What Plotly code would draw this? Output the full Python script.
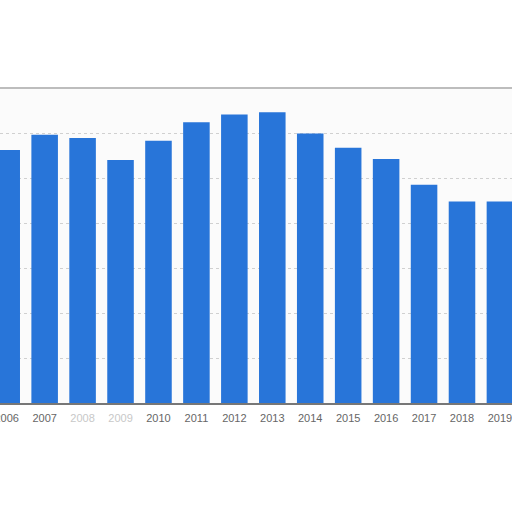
import plotly.graph_objects as go

# Bar chart, yearly values (grid units)
years = [2006, 2007, 2008, 2009, 2010, 2011, 2012, 2013, 2014, 2015, 2016, 2017, 2018, 2019]
values = [5.62, 5.96, 5.89, 5.40, 5.83, 6.24, 6.41, 6.46, 5.99, 5.67, 5.42, 4.85, 4.48, 4.48]
tick_labels = ["2006", "2007", "2008", "2009", "2010", "2011", "2012",
               "2013", "2014", "2015", "2016", "2017", "2018", "2019"]

# the 2008 / 2009 labels are smudged in the original, so they are drawn faint
faint = {"2008", "2009"}
tick_text = [
    f'<span style="color:#c8c8c8">{t}</span>' if t in faint else t
    for t in tick_labels
]

fig = go.Figure(
    go.Bar(
        x=years,
        y=values,
        marker_color="#2875d9",
        marker_line_width=0,
    )
)

fig.update_layout(
    width=512,
    height=512,
    margin=dict(l=0, r=0, t=88, b=109),
    paper_bgcolor="white",
    plot_bgcolor="#fbfbfb",
    bargap=0.3,
    showlegend=False,
    font=dict(family="Liberation Sans, Arial, sans-serif", size=11, color="#666666"),
)

fig.update_xaxes(
    range=[2005.823, 2019.318],
    tickvals=years,
    ticktext=tick_text,
    ticklabeloverflow="allow",
    automargin=False,
    showgrid=False,
    showline=True,
    linecolor="#777777",
    linewidth=2,
    ticks="",
    ticklabelstandoff=4,
    tickfont=dict(size=11, color="#666666"),
)

fig.update_yaxes(
    range=[0, 7],
    dtick=1,
    showticklabels=False,
    automargin=False,
    showgrid=True,
    gridcolor="#d0d0d0",
    griddash="dot",
    gridwidth=1,
    zeroline=False,
)

# light grey frame line along the top of the plot area
fig.add_shape(
    type="line", xref="paper", yref="paper",
    x0=0, x1=1, y0=1, y1=1,
    line=dict(color="#bdbdbd", width=2),
)

# drop the browser's default page margin so the chart fills the window
fig.write_html(
    "out.html",
    config={"displayModeBar": False},
    post_script="document.body.style.margin='0';document.body.style.overflow='hidden';",
)
